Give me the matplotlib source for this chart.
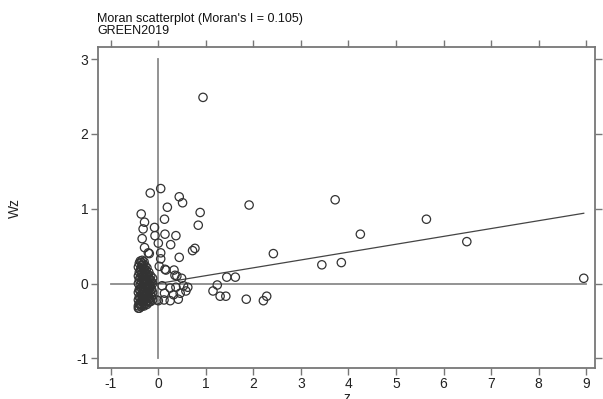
"""Moran scatterplot of GREEN2019: standardised values z against spatial lag Wz."""

import matplotlib
matplotlib.use("Agg")
import matplotlib.pyplot as plt
import numpy as np

plt.rcParams["font.family"] = ["Liberation Sans", "DejaVu Sans"]
plt.rcParams["axes.unicode_minus"] = False

variable = "GREEN2019"
moran_i = 0.105

z_spread = [0.94, 8.95, 5.64, 4.25, 6.49, 1.91, 3.72, 2.42, 3.44, 3.85,
            1.44, 1.62, 1.24, 1.15, 1.30, 1.42, 1.85, 2.21, 2.28, 0.88,
            0.84, 0.77, 0.72, -0.17, 0.05, 0.44, 0.51, 0.19, -0.36, -0.29,
            0.13, -0.32, -0.08, -0.07, 0.14, 0.37, -0.34, 0.00, 0.26, -0.29,
            -0.19, 0.05, 0.44, 0.05, 0.16, 0.33, 0.02, 0.39, 0.49, 0.08,
            0.25, 0.37, 0.53, 0.62, 0.58, 0.13, 0.32, 0.46, -0.03, 0.12,
            0.25, 0.42, -0.21, 0.14, 0.35, 0.00, -0.42]
wz_spread = [2.49, 0.07, 0.86, 0.66, 0.56, 1.05, 1.12, 0.40, 0.25, 0.28,
             0.085, 0.085, -0.02, -0.10, -0.17, -0.17, -0.21, -0.23, -0.17, 0.95,
             0.78, 0.47, 0.44, 1.21, 1.27, 1.16, 1.08, 1.02, 0.93, 0.82,
             0.86, 0.73, 0.75, 0.64, 0.66, 0.64, 0.60, 0.54, 0.52, 0.48,
             0.40, 0.41, 0.35, 0.33, 0.18, 0.18, 0.23, 0.10, 0.07, -0.03,
             -0.06, -0.05, -0.03, -0.05, -0.10, -0.13, -0.15, -0.13, -0.22, -0.22,
             -0.23, -0.21, 0.41, 0.19, 0.11, -0.23, -0.33]

# dense cluster of low-value observations just left of zero
z_cluster = [-0.42, -0.42, -0.42, -0.42, -0.42, -0.42,
             -0.40, -0.40, -0.40, -0.40, -0.40, -0.40, -0.40,
             -0.38, -0.38, -0.38, -0.38, -0.38, -0.38, -0.38,
             -0.36, -0.36, -0.36, -0.36, -0.36, -0.36, -0.36, -0.36,
             -0.34, -0.34, -0.34, -0.34, -0.34, -0.34, -0.34, -0.34,
             -0.32, -0.32, -0.32, -0.32, -0.32, -0.32, -0.32,
             -0.30, -0.30, -0.30, -0.30, -0.30, -0.30, -0.30, -0.30,
             -0.28, -0.28, -0.28, -0.28, -0.28, -0.28, -0.28,
             -0.26, -0.26, -0.26, -0.26, -0.26, -0.26,
             -0.24, -0.24, -0.24, -0.24, -0.24, -0.24, -0.24,
             -0.22, -0.22, -0.22, -0.22, -0.22,
             -0.20, -0.20, -0.20, -0.20, -0.20, -0.20,
             -0.18, -0.18, -0.18, -0.18,
             -0.16, -0.16, -0.16, -0.16, -0.16,
             -0.14, -0.14, -0.14,
             -0.12, -0.12, -0.12, -0.12]
wz_cluster = [-0.30, -0.22, -0.12, 0.00, 0.10, 0.22,
              -0.27, -0.18, -0.08, 0.05, 0.15, 0.27, -0.33,
              -0.28, -0.20, -0.10, -0.02, 0.08, 0.18, 0.30,
              -0.31, -0.24, -0.15, -0.06, 0.03, 0.12, 0.21, 0.28,
              -0.29, -0.21, -0.13, -0.04, 0.06, 0.14, 0.24, 0.31,
              -0.26, -0.17, -0.09, 0.00, 0.09, 0.19, 0.26,
              -0.30, -0.22, -0.14, -0.05, 0.04, 0.11, 0.20, 0.29,
              -0.27, -0.18, -0.10, -0.01, 0.07, 0.16, 0.24,
              -0.24, -0.15, -0.07, 0.02, 0.10, 0.18,
              -0.28, -0.20, -0.11, -0.03, 0.05, 0.13, 0.21,
              -0.23, -0.14, -0.06, 0.03, 0.12,
              -0.25, -0.17, -0.08, 0.00, 0.08, 0.15,
              -0.20, -0.10, -0.02, 0.06,
              -0.24, -0.13, -0.04, 0.04, 0.10,
              -0.18, -0.08, 0.02,
              -0.22, -0.12, 0.00, 0.07]

z = np.array(z_spread + z_cluster)
wz = np.array(wz_spread + wz_cluster)

x_ticks = list(range(-1, 10))
y_ticks = list(range(-1, 4))

fig = plt.figure(figsize=(6.03, 3.99), dpi=100)
ax = fig.add_axes([0.163, 0.0785, 0.824, 0.803])

grey = "#8a8a8a"
ax.plot([x_ticks[0], x_ticks[-1]], [0, 0], color=grey, lw=1.3, zorder=1)
ax.plot([0, 0], [y_ticks[0], y_ticks[-1]], color=grey, lw=1.3, zorder=1)

xs = np.array([z.min(), z.max()])
ax.plot(xs, moran_i * xs, color="#444444", lw=0.9, zorder=2)

ax.scatter(z, wz, s=36, facecolors="none", edgecolors="#333333",
           linewidths=0.9, zorder=3)

ax.set_xlim(-1.263, 9.19)
ax.set_ylim(-1.126, 3.16)
ax.set_xticks(x_ticks)
ax.set_yticks(y_ticks)
ax.tick_params(direction="out", length=5, width=1, color="#777777",
               labelsize=10, labelcolor="#222222", top=True, right=True,
               pad=2)
for s in ax.spines.values():
    s.set_color("#777777")
    s.set_linewidth(1.3)

fig.text(97 / 603, 1 - 13 / 399, f"Moran scatterplot (Moran's I = {moran_i})\n{variable}",
         ha="left", va="top", fontsize=9, linespacing=1.0, color="#111111")
fig.text(15 / 603, 1 - 208 / 399, "Wz", rotation=90, ha="center",
         va="center", fontsize=10, color="#222222")
fig.text(347 / 603, 1 - 391 / 399, "z", ha="center", va="top",
         fontsize=10, color="#222222")

fig.savefig("out.png", dpi=100)
